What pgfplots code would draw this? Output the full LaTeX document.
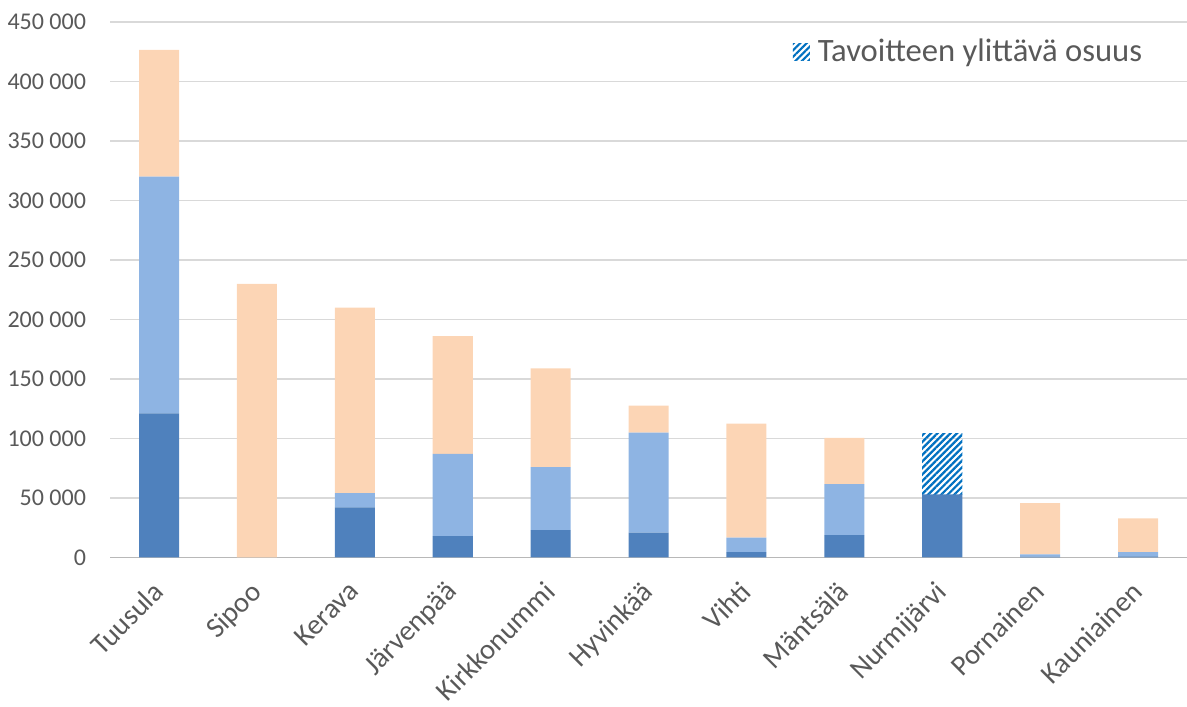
\documentclass[border=0pt]{standalone}
\usepackage{pgfplots}
\pgfplotsset{compat=1.18}
\usepackage{fontspec}
\setmainfont{Carlito}
\usetikzlibrary{patterns.meta}
\definecolor{darkb}{HTML}{4F81BD}
\definecolor{lightb}{HTML}{8EB4E3}
\definecolor{peach}{HTML}{FCD5B5}
\definecolor{hatchb}{HTML}{0070C0}
\definecolor{txt}{HTML}{595959}
\definecolor{gridc}{HTML}{D9D9D9}
\begin{document}
\begin{tikzpicture}
\begin{axis}[
  scale only axis,
  width=538pt, height=267.5pt,
  ybar stacked, bar width=20pt,
  xmin=-0.5, xmax=10.5,
  ymin=0, ymax=450000,
  ytick={0,50000,...,450000},
  scaled y ticks=false,
  yticklabel style={font=\fontsize{12}{14}\selectfont, text=txt, xshift=-8.5pt,
    /pgf/number format/.cd, fixed, 1000 sep={\ }, assume math mode=true},
  xtick={0,...,10},
  xticklabels={Tuusula,Sipoo,Kerava,Järvenpää,Kirkkonummi,Hyvinkää,Vihti,Mäntsälä,Nurmijärvi,Pornainen,Kauniainen},
  xticklabel style={font=\fontsize{14.3}{16}\selectfont, text=txt, rotate=45, anchor=north east, inner sep=1pt, xshift=-9.5pt, yshift=-3.9pt},
  axis line style={draw=none},
  major tick length=0pt,
  ymajorgrids, grid style={gridc, line width=0.8pt},
  legend style={at={(0.968,0.944)}, anchor=east, draw=none, fill=none,
    font=\fontsize{16.3}{18}\selectfont, text=txt, inner sep=1pt, nodes={inner xsep=4pt}},
  legend image code/.code={\fill[#1] (0pt,-4pt) rectangle (8.5pt,4pt);},
]
\addplot[fill=darkb, draw=none, forget plot] coordinates {(0,121000) (1,0) (2,42000) (3,18000) (4,23000) (5,20800) (6,4500) (7,18800) (8,53000) (9,800) (10,1000)};
\addplot[fill=lightb, draw=none, forget plot] coordinates {(0,199000) (1,0) (2,12000) (3,69000) (4,53000) (5,84100) (6,12100) (7,42800) (8,0) (9,1700) (10,3500)};
\addplot[fill=white, draw=none, pattern={Lines[angle=45, distance=2.3pt, line width=1.1pt]}, pattern color=hatchb] coordinates {(0,0) (1,0) (2,0) (3,0) (4,0) (5,0) (6,0) (7,0) (8,51500) (9,0) (10,0)};
\addlegendentry{Tavoitteen ylittävä osuus}
\addplot[fill=peach, draw=none, forget plot] coordinates {(0,106500) (1,230000) (2,156000) (3,99000) (4,83000) (5,22700) (6,95800) (7,38900) (8,0) (9,43200) (10,28300)};
\draw[gridc!85!black, line width=0.8pt] (axis cs:-0.5,0) -- (axis cs:10.5,0);
\end{axis}
\pgfresetboundingbox
\path[use as bounding box] ([xshift=-55pt,yshift=-74.5pt]current axis.south west) rectangle ([yshift=11pt]current axis.north east);
\end{tikzpicture}
\end{document}
